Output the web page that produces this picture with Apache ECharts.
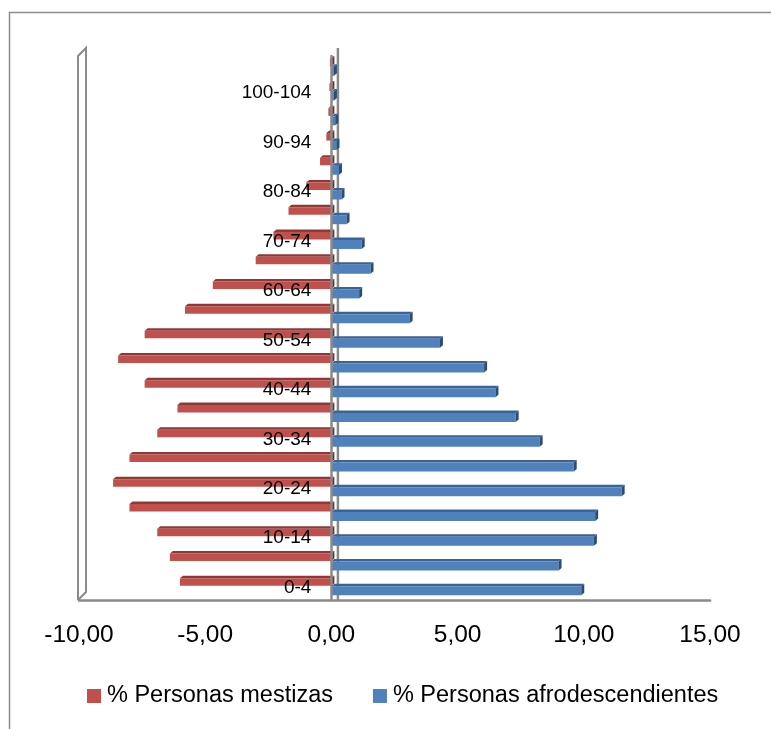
<!DOCTYPE html>
<html>
<head>
<meta charset="utf-8">
<script src="https://cdn.jsdelivr.net/npm/echarts@6/dist/echarts.min.js"></script>
<style>
  html, body { margin: 0; padding: 0; background: #fff; }
  #chart { width: 771px; height: 729px; }
</style>
</head>
<body>
<div id="chart"></div>
<script>
// Age groups, youngest first
const categories = ['0-4', '5-9', '10-14', '15-19', '20-24', '25-29', '30-34', '35-39',
  '40-44', '45-49', '50-54', '55-59', '60-64', '65-69', '70-74', '75-79',
  '80-84', '85-89', '90-94', '95-99', '100-104', '105 y más'];

// Share of population per age group (mestizas plotted to the left)
const mestizas = [-6.0, -6.4, -6.9, -8.0, -8.65, -8.0, -6.9, -6.1,
  -7.4, -8.45, -7.4, -5.8, -4.7, -3.0, -2.3, -1.7,
  -1.0, -0.45, -0.2, -0.12, -0.08, -0.06];
const afro = [9.9, 9.0, 10.4, 10.45, 11.5, 9.6, 8.25, 7.3,
  6.5, 6.05, 4.3, 3.1, 1.1, 1.55, 1.2, 0.6,
  0.4, 0.3, 0.2, 0.15, 0.1, 0.1];

const xTicks = { min: -10, max: 15, interval: 5 };
const seriesNames = ['% Personas mestizas', '% Personas afrodescendientes'];

const FONT = 'Liberation Sans, Arial, sans-serif';
const AXIS_GREY = '#8a8a8a';

// Bar drawn as a shallow prism: front face, darker top face, side face at the far end
function prism(faces, yTop, yBottom) {
  return function (params, api) {
    const v = api.value(0);
    const i = api.value(1);
    const p0 = api.coord([0, i]);
    const p1 = api.coord([v, i]);
    const c = p0[1];
    const xa = Math.min(p0[0], p1[0]);
    const xb = Math.max(p0[0], p1[0]);
    const y0 = c + yTop, y1 = c + yBottom;
    const dx = 3, dy = 2.5;
    return {
      type: 'group',
      children: [
        { type: 'polygon', shape: { points: [[xa, y0], [xb, y0], [xb + dx, y0 - dy], [xa + dx, y0 - dy]] },
          style: { fill: faces.top } },
        { type: 'rect', shape: { x: xa, y: y0, width: xb - xa, height: y1 - y0 },
          style: { fill: faces.front } },
        { type: 'polygon', shape: { points: [[xb, y0], [xb + dx, y0 - dy], [xb + dx, y1 - dy], [xb, y1]] },
          style: { fill: faces.side } }
      ]
    };
  };
}

const redFaces = { front: '#C0504D', top: '#8E3936', side: '#7A2F2D' };
const blueFaces = { front: '#4F81BD', top: '#3B6396', side: '#2D4C75' };

const chart = echarts.init(document.getElementById('chart'), null, { renderer: 'canvas' });

const option = {
  backgroundColor: '#ffffff',
  animation: false,
  grid: { left: 79, right: 61, top: 56, bottom: 129, containLabel: false, outerBoundsMode: 'none' },
  legend: {
    bottom: 16,
    left: 82,
    itemWidth: 14,
    itemHeight: 14,
    itemGap: 40,
    icon: 'rect',
    textStyle: { fontFamily: FONT, fontSize: 23.5, color: '#000', padding: [0, 0, 0, 1] },
    data: seriesNames
  },
  xAxis: {
    type: 'value',
    min: xTicks.min,
    max: xTicks.max,
    interval: xTicks.interval,
    axisLine: { show: true, onZero: false, lineStyle: { color: AXIS_GREY, width: 2.5 } },
    axisTick: { show: false },
    splitLine: { show: false },
    axisLabel: {
      margin: 23,
      fontFamily: FONT, fontSize: 24.5, color: '#000',
      formatter: v => v.toFixed(2).replace('.', ',')
    }
  },
  yAxis: {
    type: 'category',
    data: categories,
    z: 10,
    axisLine: { show: true, onZero: false, lineStyle: { color: AXIS_GREY, width: 2.5 } },
    axisTick: { show: false },
    axisLabel: {
      interval: 1,
      margin: 20,
      fontFamily: FONT, fontSize: 19, color: '#000'
    }
  },
  series: [
    {
      name: seriesNames[0],
      type: 'custom',
      itemStyle: { color: redFaces.front },
      renderItem: prism(redFaces, -9.5, -2),
      encode: { x: 0, y: 1 },
      data: mestizas.map((v, i) => [v, i]),
      z: 2
    },
    {
      name: seriesNames[1],
      type: 'custom',
      itemStyle: { color: blueFaces.front },
      renderItem: prism(blueFaces, -1.5, 7.5),
      encode: { x: 0, y: 1 },
      data: afro.map((v, i) => [v, i]),
      z: 3
    }
  ]
};

chart.setOption(option);

// Frame, side wall and back plane edge, placed from the axis scales
const toPx = (x, y) => chart.convertToPixel({ gridIndex: 0 }, [x, y]);
const band = toPx(0, 0)[1] - toPx(0, 1)[1];
const yBottom = toPx(0, 0)[1] + band / 2;
const yTop = toPx(0, categories.length - 1)[1] - band / 2;
const xLeft = toPx(xTicks.min, 0)[0];
const xZero = toPx(0, 0)[0];
const depth = 8;

chart.setOption({
  // category axis sits on the zero of the value axis
  yAxis: { offset: -(xZero - xLeft) },
  graphic: [
    {
      type: 'rect', silent: true, z: -10,
      shape: { x: 9.5, y: 12.5, width: 900, height: 900 },
      style: { fill: null, stroke: '#8c8c8c', lineWidth: 1.5 }
    },
    {
      type: 'polyline', silent: true, z: 0,
      shape: { points: [[xLeft - 1, yBottom], [xLeft - 1, yTop], [xLeft - 1 + depth, yTop - depth],
        [xLeft - 1 + depth, yBottom - depth], [xLeft - 1, yBottom]] },
      style: { fill: null, stroke: AXIS_GREY, lineWidth: 2 }
    },
    {
      type: 'line', silent: true, z: 1,
      shape: { x1: xZero + 6.5, y1: yTop - 8, x2: xZero + 6.5, y2: yBottom },
      style: { stroke: AXIS_GREY, lineWidth: 2.5 }
    }
  ]
});
</script>
</body>
</html>
